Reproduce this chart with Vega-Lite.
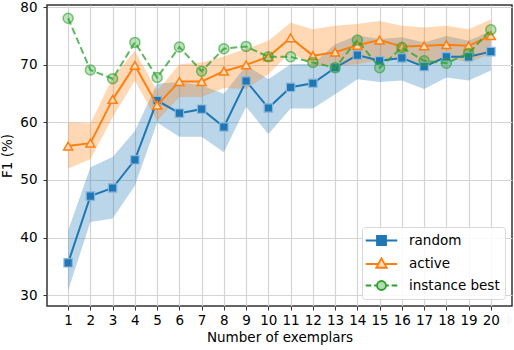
{
  "$schema": "https://vega.github.io/schema/vega-lite/v6.json",
  "width": 465,
  "height": 301,
  "autosize": {"type": "none"},
  "padding": {"left": 47, "top": 5, "right": 2, "bottom": 44},
  "config": {
    "font": "DejaVu Sans",
    "view": {"stroke": "#333333", "strokeWidth": 1.5},
    "axis": {
      "labelFont": "DejaVu Sans", "labelFontSize": 13.5, "labelColor": "#000000",
      "titleFont": "DejaVu Sans", "titleFontSize": 13.5, "titleFontWeight": "normal", "titleColor": "#000000",
      "tickColor": "#333333", "tickSize": 4, "domain": false,
      "gridColor": "#d4d4d4", "gridWidth": 1.2
    }
  },
  "data": {"values": [
    {"x":1,"method":"random","f1":35.6,"lo":30.8,"hi":41.2},
    {"x":2,"method":"random","f1":47.2,"lo":42.7,"hi":52.2},
    {"x":3,"method":"random","f1":48.6,"lo":43.3,"hi":54.0},
    {"x":4,"method":"random","f1":53.5,"lo":49.0,"hi":58.5},
    {"x":5,"method":"random","f1":63.8,"lo":60.0,"hi":66.7},
    {"x":6,"method":"random","f1":61.6,"lo":57.5,"hi":67.0},
    {"x":7,"method":"random","f1":62.3,"lo":57.5,"hi":66.4},
    {"x":8,"method":"random","f1":59.2,"lo":54.8,"hi":65.0},
    {"x":9,"method":"random","f1":67.2,"lo":62.7,"hi":69.9},
    {"x":10,"method":"random","f1":62.5,"lo":58.0,"hi":67.5},
    {"x":11,"method":"random","f1":66.1,"lo":62.4,"hi":70.1},
    {"x":12,"method":"random","f1":66.8,"lo":62.4,"hi":70.2},
    {"x":13,"method":"random","f1":69.5,"lo":64.9,"hi":73.6},
    {"x":14,"method":"random","f1":71.7,"lo":67.5,"hi":75.1},
    {"x":15,"method":"random","f1":70.7,"lo":67.0,"hi":74.5},
    {"x":16,"method":"random","f1":71.2,"lo":67.3,"hi":74.8},
    {"x":17,"method":"random","f1":69.7,"lo":65.8,"hi":73.9},
    {"x":18,"method":"random","f1":71.4,"lo":67.8,"hi":75.0},
    {"x":19,"method":"random","f1":71.4,"lo":67.3,"hi":74.2},
    {"x":20,"method":"random","f1":72.3,"lo":69.0,"hi":75.9},
    {"x":1,"method":"active","f1":55.9,"lo":52.0,"hi":60.0},
    {"x":2,"method":"active","f1":56.4,"lo":53.6,"hi":59.8},
    {"x":3,"method":"active","f1":64.0,"lo":60.9,"hi":67.8},
    {"x":4,"method":"active","f1":69.9,"lo":67.3,"hi":72.4},
    {"x":5,"method":"active","f1":63.0,"lo":60.3,"hi":65.5},
    {"x":6,"method":"active","f1":67.1,"lo":64.4,"hi":70.1},
    {"x":7,"method":"active","f1":67.1,"lo":64.4,"hi":70.4},
    {"x":8,"method":"active","f1":68.9,"lo":66.0,"hi":71.5},
    {"x":9,"method":"active","f1":70.0,"lo":65.8,"hi":72.8},
    {"x":10,"method":"active","f1":71.4,"lo":68.4,"hi":74.2},
    {"x":11,"method":"active","f1":74.7,"lo":72.2,"hi":77.3},
    {"x":12,"method":"active","f1":71.6,"lo":69.8,"hi":76.2},
    {"x":13,"method":"active","f1":72.2,"lo":69.9,"hi":76.8},
    {"x":14,"method":"active","f1":73.4,"lo":70.1,"hi":77.1},
    {"x":15,"method":"active","f1":74.3,"lo":70.9,"hi":77.6},
    {"x":16,"method":"active","f1":73.2,"lo":71.1,"hi":76.8},
    {"x":17,"method":"active","f1":73.3,"lo":70.1,"hi":76.5},
    {"x":18,"method":"active","f1":73.5,"lo":71.3,"hi":76.8},
    {"x":19,"method":"active","f1":73.3,"lo":70.4,"hi":76.2},
    {"x":20,"method":"active","f1":75.1,"lo":71.9,"hi":77.9},
    {"x":1,"method":"instance best","f1":78.1},
    {"x":2,"method":"instance best","f1":69.1},
    {"x":3,"method":"instance best","f1":67.6},
    {"x":4,"method":"instance best","f1":73.9},
    {"x":5,"method":"instance best","f1":67.8},
    {"x":6,"method":"instance best","f1":73.1},
    {"x":7,"method":"instance best","f1":68.9},
    {"x":8,"method":"instance best","f1":72.8},
    {"x":9,"method":"instance best","f1":73.2},
    {"x":10,"method":"instance best","f1":71.4},
    {"x":11,"method":"instance best","f1":71.4},
    {"x":12,"method":"instance best","f1":70.4},
    {"x":13,"method":"instance best","f1":69.5},
    {"x":14,"method":"instance best","f1":74.3},
    {"x":15,"method":"instance best","f1":69.5},
    {"x":16,"method":"instance best","f1":73.0},
    {"x":17,"method":"instance best","f1":70.7},
    {"x":18,"method":"instance best","f1":70.3},
    {"x":19,"method":"instance best","f1":72.0},
    {"x":20,"method":"instance best","f1":76.1}
  ]},
  "encoding": {
    "x": {
      "field": "x", "type": "quantitative",
      "scale": {"domain": [0.05, 20.95], "nice": false, "zero": false},
      "axis": {"values": [1,2,3,4,5,6,7,8,9,10,11,12,13,14,15,16,17,18,19,20], "title": "Number of exemplars", "labelPadding": 3, "titlePadding": 4, "labelFlush": false, "labelOverlap": false}
    }
  },
  "layer": [
    {
      "transform": [{"filter": "datum.method == 'random'"}],
      "mark": {"type": "area", "color": "#1f77b4", "opacity": 0.3},
      "encoding": {
        "y": {"field": "lo", "type": "quantitative", "scale": {"domain": [28.1, 80.4], "nice": false, "zero": false}, "axis": {"values": [30,40,50,60,70,80], "title": "F1 (%)", "labelPadding": 6, "titlePadding": 5}},
        "y2": {"field": "hi"}
      }
    },
    {
      "transform": [{"filter": "datum.method == 'active'"}],
      "mark": {"type": "area", "color": "#ff7f0e", "opacity": 0.3},
      "encoding": {
        "y": {"field": "lo", "type": "quantitative"},
        "y2": {"field": "hi"}
      }
    },
    {
      "transform": [{"filter": "datum.method == 'random'"}],
      "mark": {"type": "line", "strokeWidth": 2},
      "encoding": {
        "y": {"field": "f1", "type": "quantitative"},
        "color": {
          "field": "method", "type": "nominal",
          "scale": {"domain": ["random", "active", "instance best"], "range": ["#1f77b4", "#ff7f0e", "#2ca02c"]},
          "legend": {
            "title": null, "orient": "bottom-right", "offset": 7,
            "symbolSize": 225, "symbolStrokeWidth": 1.8,
            "labelFont": "DejaVu Sans", "labelFontSize": 13.5, "labelColor": "#000000",
            "padding": 5, "strokeColor": "#d9d9d9", "fillColor": "rgba(255,255,255,0.85)", "cornerRadius": 3,
            "rowPadding": 5.5, "labelOffset": 19, "symbolOffset": 6,
            "encode": {
              "symbols": {
                "update": {
                  "shape": {"signal": "datum.value == 'random' ? 'M-2.1,0H2.1M-0.6,-0.6H0.6V0.6H-0.6Z' : datum.value == 'active' ? 'M-2.1,0H-0.42M0.42,0H2.1M0,-0.75L0.7,0.5H-0.7Z' : 'M-2.1,0H-1.35M-0.98,0H-0.6M0.6,0H0.98M1.35,0H2.1M0.6,0A0.6,0.6,0,1,1,-0.6,0A0.6,0.6,0,1,1,0.6,0Z'"},
                  "fill": {"signal": "datum.value == 'random' ? '#1f77b4' : datum.value == 'active' ? '#fdd9b9' : '#b3dbb3'"},
                  "opacity": {"value": 1}
                }
              }
            }
          }
        }
      }
    },
    {
      "transform": [{"filter": "datum.method == 'random'"}],
      "mark": {"type": "point", "shape": "square", "size": 70, "filled": true, "fill": "#1f77b4", "stroke": "#8bb8dd", "strokeWidth": 1.2, "opacity": 1},
      "encoding": {"y": {"field": "f1", "type": "quantitative"}}
    },
    {
      "transform": [{"filter": "datum.method == 'active'"}],
      "mark": {"type": "line", "strokeWidth": 2, "color": "#ff7f0e"},
      "encoding": {"y": {"field": "f1", "type": "quantitative"}}
    },
    {
      "transform": [{"filter": "datum.method == 'active'"}],
      "mark": {"type": "point", "shape": "triangle-up", "size": 80, "filled": true, "fill": "#fdd9b9", "stroke": "#ff7f0e", "strokeWidth": 1.5, "opacity": 1},
      "encoding": {"y": {"field": "f1", "type": "quantitative"}}
    },
    {
      "transform": [{"filter": "datum.method == 'instance best'"}],
      "mark": {"type": "line", "strokeWidth": 2, "color": "#2ca02c", "opacity": 0.75, "strokeDash": [7, 3.5]},
      "encoding": {"y": {"field": "f1", "type": "quantitative"}}
    },
    {
      "transform": [{"filter": "datum.method == 'instance best'"}],
      "mark": {"type": "point", "shape": "circle", "size": 100, "filled": true, "fill": "#2ca02c", "fillOpacity": 0.3, "stroke": "#2ca02c", "strokeOpacity": 0.6, "strokeWidth": 1.5},
      "encoding": {"y": {"field": "f1", "type": "quantitative"}}
    }
  ]
}
